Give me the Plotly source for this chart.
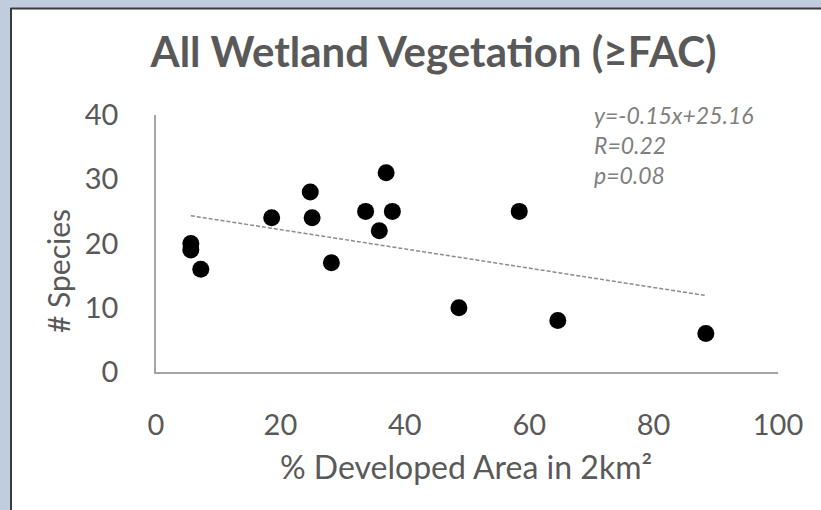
import plotly.graph_objects as go

# Data
dev_area = [5.6, 5.6, 7.2, 18.6, 24.8, 25.1, 28.2, 33.7, 37.0, 38.0, 35.9, 58.4, 48.7, 64.6, 88.4]
species = [20, 19, 16, 24, 28, 24, 17, 25, 31, 25, 22, 25, 10, 8, 6]

slope = -0.15
intercept = 25.16
r_value = 0.22
p_value = 0.08

x_ticks = [0, 20, 40, 60, 80, 100]
y_ticks = [0, 10, 20, 30, 40]

FONT = "Lato"
GREY = "#595959"
BLUE = "#c2ccdf"

xmin, xmax = min(dev_area), max(dev_area)
trend_x = [xmin, xmax]
trend_y = [slope * v + intercept for v in trend_x]

fig = go.Figure()
fig.add_trace(go.Scatter(
    x=trend_x, y=trend_y, mode="lines",
    line=dict(color="#8c8c8c", width=1.5, dash="4px,2px"),
    hoverinfo="skip", showlegend=False,
))
fig.add_trace(go.Scatter(
    x=dev_area, y=species, mode="markers",
    marker=dict(color="black", size=17),
    showlegend=False,
))

# plot area pixel geometry
L, R, T, B = 156, 43, 115, 138
W = 821 - L - R
H = 510 - T - B

def px_x(p):
    return (p - L) / W

def px_y(p):
    return (510 - B - p) / H

# blue frame strips (top and left) and dark border lines
fig.add_shape(type="rect", xref="paper", yref="paper",
              x0=px_x(0), x1=px_x(821), y0=px_y(8), y1=px_y(0),
              fillcolor=BLUE, line=dict(width=0), layer="below")
fig.add_shape(type="rect", xref="paper", yref="paper",
              x0=px_x(0), x1=px_x(10.5), y0=px_y(510), y1=px_y(0),
              fillcolor=BLUE, line=dict(width=0), layer="below")
fig.add_shape(type="line", xref="paper", yref="paper",
              x0=px_x(10.5), x1=px_x(821), y0=px_y(8.5), y1=px_y(8.5),
              line=dict(color="#3a3a3a", width=2), layer="below")
fig.add_shape(type="line", xref="paper", yref="paper",
              x0=px_x(11), x1=px_x(11), y0=px_y(510), y1=px_y(8),
              line=dict(color="#3a3a3a", width=2), layer="below")

fig.update_layout(
    width=821, height=510,
    margin=dict(l=L, r=R, t=T, b=B),
    paper_bgcolor="white",
    plot_bgcolor="rgba(0,0,0,0)",
    font=dict(family=FONT, color=GREY),
    title=dict(text="<b>All Wetland Vegetation (≥FAC)</b>",
               font=dict(family=FONT, size=42, color=GREY),
               x=px_x(433.5), xref="paper", xanchor="center",
               y=1 - 52 / 510, yref="container", yanchor="middle"),
    xaxis=dict(range=[0, 100], tickvals=x_ticks, showgrid=False, zeroline=False,
               showline=True, linecolor="#a6a6a6", linewidth=1.5,
               tickfont=dict(family=FONT, size=29, color=GREY),
               ticklabelstandoff=26),
    yaxis=dict(range=[0, 40], tickvals=y_ticks, showgrid=False, zeroline=False,
               showline=True, linecolor="#a6a6a6", linewidth=1.5,
               tickfont=dict(family=FONT, size=29, color=GREY),
               ticklabelstandoff=30),
)

# axis titles
fig.add_annotation(
    xref="paper", yref="paper", x=px_x(466), y=px_y(466),
    xanchor="center", yanchor="middle", showarrow=False,
    text="% Developed Area in 2km²",
    font=dict(family=FONT, size=32, color=GREY),
)
fig.add_annotation(
    xref="paper", yref="paper", x=px_x(58), y=px_y(271),
    xanchor="center", yanchor="middle", showarrow=False, textangle=-90,
    text="# Species",
    font=dict(family=FONT, size=30, color=GREY),
)

fig.add_annotation(
    xref="paper", yref="paper", x=px_x(592), y=px_y(145),
    xanchor="left", yanchor="middle", align="left", showarrow=False,
    text=(f"<i>y={slope}x+{intercept}</i><br><i>R={r_value}</i><br><i>p={p_value:.2f}</i>"),
    font=dict(family=FONT, size=23, color="#7f7f7f"),
)

fig.write_html(
    "out.html",
    config={"displayModeBar": False},
    post_script="document.body.style.margin='0';document.body.style.overflow='hidden';",
)
